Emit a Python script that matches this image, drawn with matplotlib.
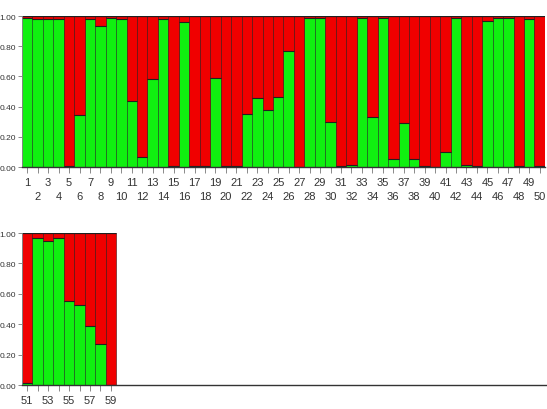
import numpy as np
import matplotlib
matplotlib.use('Agg')
import matplotlib.pyplot as plt

plt.rcParams['font.family'] = ['Liberation Sans', 'DejaVu Sans']

# proportion of cluster 1 (green) per individual, the rest is cluster 2 (red)
ind_top = list(range(1, 51))
green_top = [0.99, 0.98, 0.98, 0.98, 0.005, 0.345, 0.977, 0.934, 0.99, 0.98,
             0.44, 0.066, 0.58, 0.98, 0.005, 0.96, 0.005, 0.005, 0.59, 0.005,
             0.01, 0.35, 0.46, 0.38, 0.466, 0.77, 0.0, 0.986, 0.99, 0.30,
             0.005, 0.015, 0.99, 0.33, 0.99, 0.05, 0.29, 0.055, 0.01, 0.0,
             0.10, 0.99, 0.015, 0.005, 0.97, 0.99, 0.99, 0.005, 0.98, 0.005]

ind_bot = list(range(51, 60))
green_bot = [0.01, 0.97, 0.95, 0.97, 0.555, 0.525, 0.39, 0.27, 0.0]

GREEN = '#10f010'
RED = '#f00000'

fig = plt.figure(figsize=(5.47, 4.10), dpi=100)
ax1 = fig.add_axes([0.0402, 0.5902, 0.956, 0.3683])
ax2 = fig.add_axes([0.0402, 0.0585, 0.9598, 0.3707])

def draw(ax, ind, green, xmax):
    g = np.array(green)
    x = np.arange(len(ind))
    ax.bar(x, g, width=1.0, color=GREEN, edgecolor='#1a3a1a', linewidth=0.4)
    ax.bar(x, 1 - g, bottom=g, width=1.0, color=RED, edgecolor='#3a1010', linewidth=0.4)
    ax.hlines(g, x - 0.5, x + 0.5, color='#202020', linewidth=0.8)
    ax.hlines(1.0, -0.5, len(ind) - 0.5, color='#202020', linewidth=0.9)
    ax.set_xlim(-0.5, xmax)
    ax.set_ylim(0, 1.0)
    ax.set_yticks([0, 0.2, 0.4, 0.6, 0.8, 1.0])
    ax.set_yticklabels(['0.00', '0.20', '0.40', '0.60', '0.80', '1.00'], fontsize=6, color='#333333')
    # odd labels on the first row, even labels on a second row
    odd = [i for i, n in enumerate(ind) if n % 2]
    even = [i for i, n in enumerate(ind) if n % 2 == 0]
    ax.set_xticks(x[odd])
    ax.set_xticklabels([str(ind[i]) for i in odd], fontsize=8, color='#333333')
    ax.set_xticks(x[even], minor=True)
    ax.set_xticklabels([str(ind[i]) for i in even], minor=True, fontsize=8, color='#333333')
    for s in ['top', 'right']:
        ax.spines[s].set_visible(False)
    ax.spines['left'].set_color('#888888')
    ax.spines['left'].set_linewidth(0.6)
    ax.spines['bottom'].set_color('#333333')
    ax.spines['bottom'].set_linewidth(1.0)
    ax.tick_params(axis='x', which='major', length=4, width=0.6, color='#777777', pad=3)
    ax.tick_params(axis='x', which='minor', length=4, width=0.6, color='#777777', pad=13)
    ax.tick_params(axis='y', length=3, width=0.6, color='#777777', pad=1)

draw(ax1, ind_top, green_top, 49.5)
draw(ax2, ind_bot, green_bot, 49.7)

fig.savefig('out.png', dpi=100)
